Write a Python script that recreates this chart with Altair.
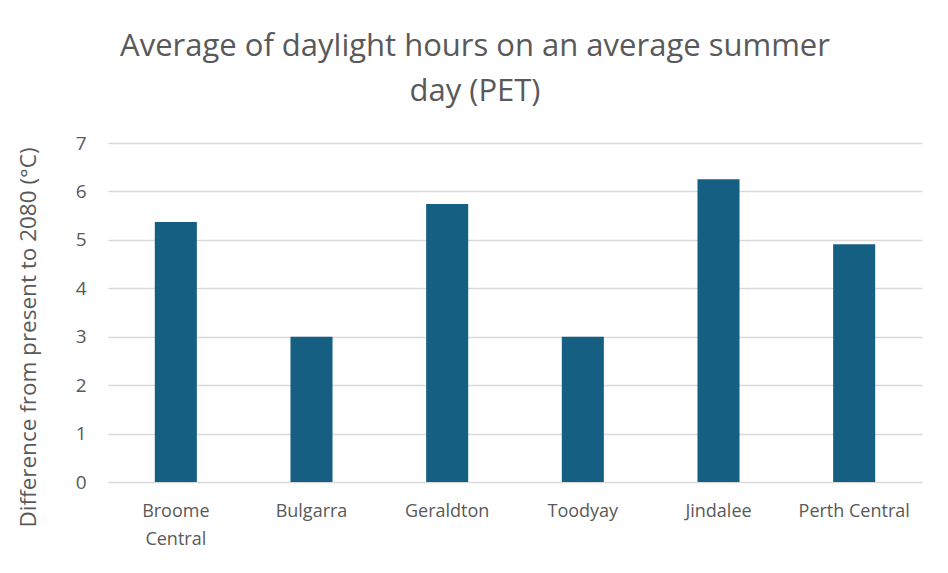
import altair as alt
import pandas as pd

categories = ["Broome Central", "Bulgarra", "Geraldton", "Toodyay", "Jindalee", "Perth Central"]
values = [5.37, 3.0, 5.74, 3.0, 6.25, 4.91]

df = pd.DataFrame({"site": categories, "diff": values})

FONT = "Open Sans, sans-serif"
TXT = "#595959"

chart = alt.Chart(df).mark_bar(color="#156082").encode(
    x=alt.X("site:N", sort=categories,
            scale=alt.Scale(paddingInner=0.69, paddingOuter=0.345),
            axis=alt.Axis(title=None, labelAngle=0, ticks=False, domain=False,
                          labelFontSize=18, labelColor=TXT, labelFont=FONT,
                          labelPadding=20, labelLineHeight=28, labelBaseline="top",
                          labelExpr="datum.value == 'Broome Central' ? ['Broome', 'Central'] : datum.value")),
    y=alt.Y("diff:Q", scale=alt.Scale(domain=[0, 7]),
            axis=alt.Axis(title="Difference from present to 2080 (°C)", values=list(range(8)),
                          ticks=False, domain=False, grid=True, gridColor="#d9d9d9", gridWidth=1.5,
                          labelFontSize=19, labelColor=TXT, labelFont=FONT, labelPadding=22,
                          titleFontSize=22.5, titleColor=TXT, titleFont=FONT, titleFontWeight="normal",
                          titleX=-80, titleY=194, titleAngle=270, titleAlign="center",
                          titleBaseline="middle")),
).properties(
    width=814,
    height=339,
    background="white",
    title=alt.TitleParams(["Average of daylight hours on an average summer", "day (PET)"],
                          fontSize=31, color=TXT, font=FONT, fontWeight="normal",
                          anchor="middle", dx=-40, offset=26, lineHeight=45),
    autosize=alt.AutoSizeParams(type="none"),
    padding={"left": 100, "top": 135, "right": 18, "bottom": 75},
).configure_view(strokeWidth=0, stroke="transparent")

chart.save("out.html", embed_options={"renderer": "svg", "actions": False})
